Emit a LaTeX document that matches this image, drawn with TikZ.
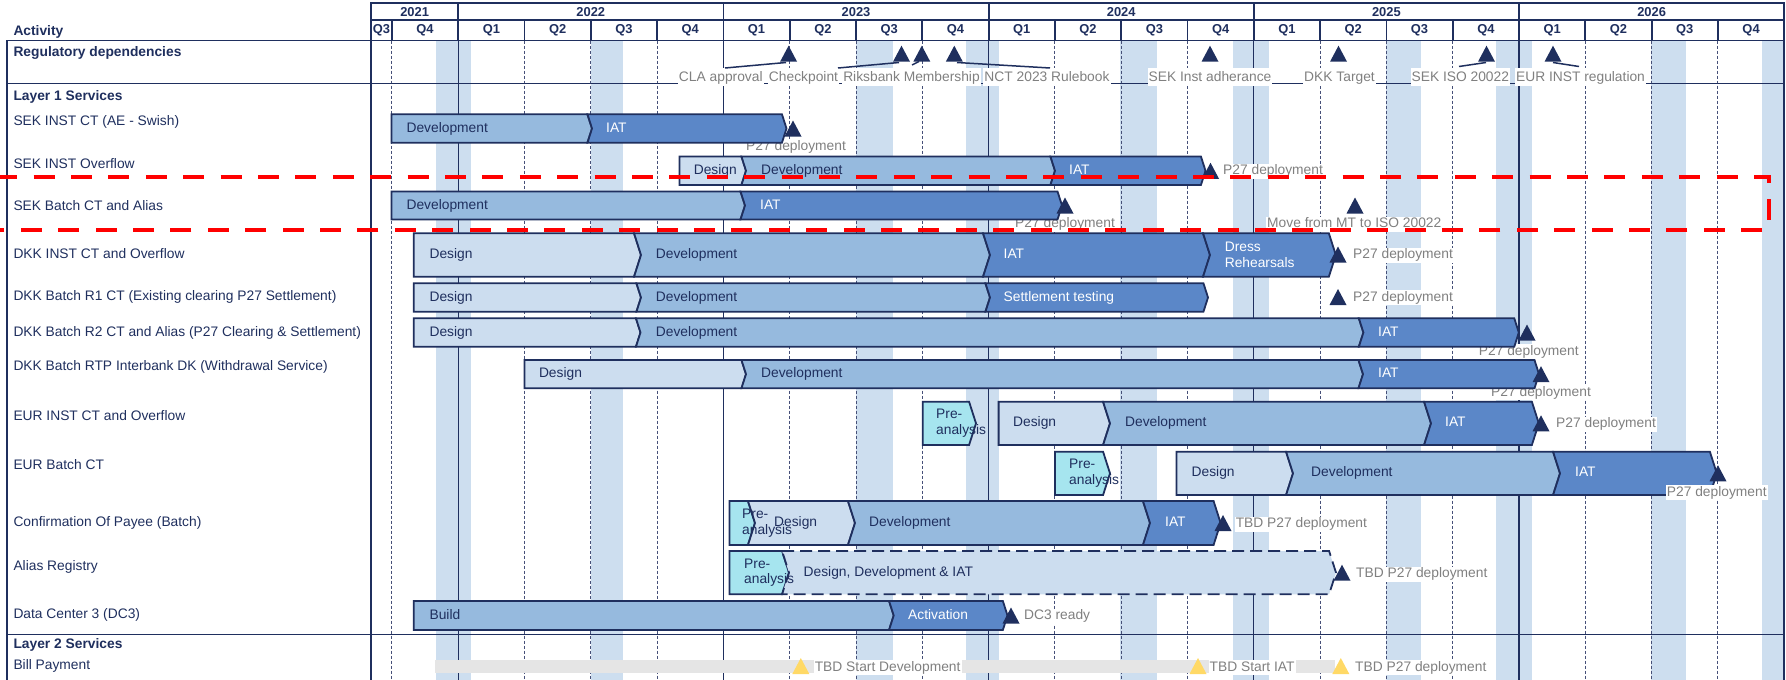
\documentclass[tikz,border=0pt]{standalone}
\usepackage{fontspec}
\setmainfont{Liberation Sans}
\definecolor{navy}{RGB}{31,47,94}
\definecolor{designc}{RGB}{204,221,239}
\definecolor{devc}{RGB}{150,186,222}
\definecolor{iatc}{RGB}{91,135,200}
\definecolor{prec}{RGB}{166,229,239}
\definecolor{bandc}{RGB}{205,222,239}
\definecolor{grayt}{RGB}{128,128,128}
\definecolor{grayb}{RGB}{229,229,229}
\definecolor{yell}{RGB}{255,217,102}
\definecolor{gridc}{RGB}{70,80,120}
\newcommand\fs{\fontsize{13.8}{15.6}\selectfont}
\newcommand\hfs{\fontsize{12.9}{14}\selectfont\bfseries}
\newcommand\segF[5]{\pgfmathsetmacro\chd{0.16*(#5-#4)}\pgfmathsetmacro\chm{(#4+#5)/2}\path[#1] (#2,#4) -- ({#3-\chd},#4) -- (#3,\chm) -- ({#3-\chd},#5) -- (#2,#5) -- cycle;}
\newcommand\segN[5]{\pgfmathsetmacro\chd{0.16*(#5-#4)}\pgfmathsetmacro\chm{(#4+#5)/2}\path[#1] ({#2-\chd},#4) -- ({#3-\chd},#4) -- (#3,\chm) -- ({#3-\chd},#5) -- ({#2-\chd},#5) -- (#2,\chm) -- cycle;}
\newcommand\mstone[3][navy]{\path[fill=#1] ({#2-8.5},{#3+8}) -- (#2,{#3-8}) -- ({#2+8.5},{#3+8}) -- cycle;}
\tikzset{
 hdr/.style={draw=navy, line width=1.8},
 hdrtxt/.style={font=\hfs, text=navy, inner sep=0},
 rowlbl/.style={font=\fs, text=navy, anchor=west, inner sep=0},
 rowhd/.style={font=\fs\bfseries, text=navy, anchor=west, inner sep=0},
 lbl/.style={font=\fs, text=grayt, fill=white, anchor=west, inner xsep=1, inner ysep=1, text height=10, text depth=3},
 regl/.style={lbl, anchor=base, text height=13, text depth=3},
 seg/.style={draw=navy, line width=1.8, line join=miter},
 sdesign/.style={seg, fill=designc},
 sdev/.style={seg, fill=devc},
 siat/.style={seg, fill=iatc},
 spre/.style={seg, fill=prec},
 sdashed/.style={seg, fill=designc, dash pattern=on 12 off 6},
 btxt/.style={font=\fs, text=navy, anchor=west, inner sep=0, text height=10, text depth=3},
 btxtw/.style={btxt, text=white},
 btxtm/.style={font=\fs, text=navy, anchor=west, inner sep=0, align=left},
 qline/.style={draw=gridc, line width=0.9, dash pattern=on 3 off 2},
 yline/.style={draw=navy, line width=1.2},
 leader/.style={draw=navy, line width=1.5},
 reddash/.style={draw=red, line width=4.5, dash pattern=on 21 off 16.4},
}
\begin{document}
\begin{tikzpicture}[x=1pt,y=-1pt]
\useasboundingbox (0,0) rectangle (1786,680);
% holiday bands
\foreach \a/\b in {436/471,591/623,856/893,966/999,1120/1157,1233/1269,1386/1421,1496/1532,1651/1686,1762/1784.2}
  \fill[bandc] (\a,40.5) rectangle (\b,680);
% quarter lines
\draw[qline] (391.9,40.5) -- (391.9,680);
\foreach \k in {1,2,3,5,6,7,9,10,11,13,14,15,17,18,19} {\pgfmathsetmacro\xq{458.2+66.3*\k}\draw[qline] (\xq,40.5) -- (\xq,680);}
% year lines
\foreach \xq in {458.2,723.4,988.6,1253.8,1519} \draw[yline] (\xq,40.5) -- (\xq,680);
% frame
\draw[navy, line width=1.8] (6.7,680) -- (6.7,40.5) -- (1784.2,40.5) -- (1784.2,680);
\draw[navy, line width=1.8] (371,40.5) -- (371,680);
\draw[navy, line width=1.3] (6.7,83.5) -- (1784.2,83.5);
\draw[navy, line width=1.3] (6.7,634.4) -- (1784.2,634.4);
% header
\foreach \a/\b/\t in {371/458.2/2021,458.2/723.4/2022,723.4/988.6/2023,988.6/1253.8/2024,1253.8/1519/2025,1519/1784.2/2026}
  {\draw[hdr] (\a,3.3) rectangle (\b,20); \node[hdrtxt] (y\t) at ({(\a+\b)/2},11.9) {\t};}
\draw[hdr] (371,20) rectangle (391.9,40.5); \node[hdrtxt] (qa) at (381.45,30.5) {Q3};
\draw[hdr] (391.9,20) rectangle (458.2,40.5); \node[hdrtxt] (qb) at (425.05,30.5) {Q4};
\foreach \k in {0,...,19} {\pgfmathsetmacro\xa{458.2+66.3*\k}\pgfmathtruncatemacro\qq{mod(\k,4)+1}
  \draw[hdr] (\xa,20) rectangle ({\xa+66.3},40.5); \node[hdrtxt] (q\k) at ({\xa+33.15},30.5) {Q\qq};}
% left labels
\node[rowhd] (act) at (13.3,31.7) {Activity};
\node[rowhd] (reg) at (13.3,53.3) {Regulatory dependencies};
\node[rowhd] (l1) at (13.3,97.3) {Layer 1 Services};
\node[rowlbl] (r1) at (13.3,121.7) {SEK INST CT (AE - Swish)};
\node[rowlbl] (r2) at (13.3,163.3) {SEK INST Overflow};
\node[rowlbl] (r3) at (13.3,205.7) {SEK Batch CT and Alias};
\node[rowlbl] (r4) at (13.3,254) {DKK INST CT and Overflow};
\node[rowlbl] (r5) at (13.3,297.3) {DKK Batch R1 CT (Existing clearing P27 Settlement)};
\node[rowlbl] (r6) at (13.3,332.5) {DKK Batch R2 CT and Alias (P27 Clearing \& Settlement)};
\node[rowlbl] (r7) at (13.3,367.3) {DKK Batch RTP Interbank DK (Withdrawal Service)};
\node[rowlbl] (r8) at (13.3,415.7) {EUR INST CT and Overflow};
\node[rowlbl] (r9) at (13.3,465) {EUR Batch CT};
\node[rowlbl] (r10) at (13.3,523.3) {Confirmation Of Payee (Batch)};
\node[rowlbl] (r11) at (13.3,566.5) {Alias Registry};
\node[rowlbl] (r12) at (13.3,615) {Data Center 3 (DC3)};
\node[rowhd] (l2) at (13.3,644.7) {Layer 2 Services};
\node[rowlbl] (r13) at (13.3,666.3) {Bill Payment};
% regulatory labels
\node[regl] (g1) at (720.8,81.5) {CLA approval};
\node[regl] (g2) at (803.5,81.5) {Checkpoint};
\node[regl] (g3) at (911.5,81.5) {Riksbank Membership};
\node[regl] (g4) at (1047,81.5) {NCT 2023 Rulebook};
\node[regl] (g5) at (1210,81.5) {SEK Inst adherance};
\node[regl] (g6) at (1339.5,81.5) {DKK Target};
\node[regl] (g7) at (1460.3,81.5) {SEK ISO 20022};
\node[regl] (g8) at (1580.5,81.5) {EUR INST regulation};
% bill payment gray bar
\fill[grayb] (435,659.5) rectangle (1335,673);
% milestone labels
\node[lbl] (m1) at (745,147) {P27 deployment};
\node[lbl] (m2) at (1222,171) {P27 deployment};
\node[lbl] (m3) at (1014,224.3) {P27 deployment};
\node[lbl] (m3b) at (1266,224.3) {Move from MT to ISO 20022};
\node[lbl] (m4) at (1352,255.3) {P27 deployment};
\node[lbl] (m5) at (1352,297.7) {P27 deployment};
\node[lbl] (m6) at (1477.7,351.7) {P27 deployment};
\node[lbl] (m7) at (1490,392.7) {P27 deployment};
\node[lbl] (m8) at (1555,424.3) {P27 deployment};
\node[lbl] (m10) at (1234.6,524) {TBD P27 deployment};
\node[lbl] (m11) at (1355,574.3) {TBD P27 deployment};
\node[lbl] (m12) at (1023,616) {DC3 ready};
\node[lbl] (b1) at (813.6,667.5) {TBD Start Development};
\node[lbl] (b2) at (1208.5,667.5) {TBD Start IAT};
\node[lbl] (b3) at (1354,667.5) {TBD P27 deployment};
% row 1 SEK INST CT
\segF{sdev}{391.4}{592}{114.3}{142.7}
\segN{siat}{592}{786.5}{114.3}{142.7}
\node[btxt] (a1) at (406.4,128.5) {Development};
\node[btxtw] (a2) at (606,128.5) {IAT};
% row 2 SEK INST Overflow
\segF{sdesign}{679.4}{746}{156.5}{185}
\segN{sdev}{746}{1055}{156.5}{185}
\segN{siat}{1055}{1205.5}{156.5}{185}
\node[btxt] (b21) at (693.6,170.75) {Design};
\node[btxt] (b22) at (761,170.75) {Development};
\node[btxtw] (b23) at (1069,170.75) {IAT};
% row 3 SEK Batch
\segF{sdev}{391.4}{745}{191.5}{219.5}
\segN{siat}{745}{1062}{191.5}{219.5}
\node[btxt] (b31) at (406.4,205.5) {Development};
\node[btxtw] (b32) at (760,205.5) {IAT};
% row 4 DKK INST
\segF{sdesign}{413.75}{641}{233.3}{276.7}
\segN{sdev}{641}{990}{233.3}{276.7}
\segN{siat}{990}{1210}{233.3}{276.7}
\segN{siat}{1210}{1335.8}{233.3}{276.7}
\node[btxt] (b41) at (429.4,255) {Design};
\node[btxt] (b42) at (655.7,255) {Development};
\node[btxtw] (b43) at (1003.5,255) {IAT};
\node[btxtm, text=white] (b44) at (1224.6,255) {Dress\\Rehearsals};
% row 5 DKK R1
\segF{sdesign}{413.75}{641}{283.3}{311.7}
\segN{sdev}{641}{990}{283.3}{311.7}
\segN{siat}{990}{1208}{283.3}{311.7}
\node[btxt] (b51) at (429.4,297.5) {Design};
\node[btxt] (b52) at (655.7,297.5) {Development};
\node[btxtw] (b53) at (1003.5,297.5) {Settlement testing};
% row 6 DKK R2
\segF{sdesign}{413.75}{640.5}{318.3}{346.7}
\segN{sdev}{640.5}{1363.4}{318.3}{346.7}
\segN{siat}{1363.4}{1518.8}{318.3}{346.7}
\node[btxt] (b61) at (429.4,332.5) {Design};
\node[btxt] (b62) at (655.7,332.5) {Development};
\node[btxtw] (b63) at (1378,332.5) {IAT};
% row 7 RTP
\segF{sdesign}{524.5}{746}{360}{388.3}
\segN{sdev}{746}{1363}{360}{388.3}
\segN{siat}{1363}{1539}{360}{388.3}
\node[btxt] (b71) at (538.8,374.2) {Design};
\node[btxt] (b72) at (761,374.2) {Development};
\node[btxtw] (b73) at (1378,374.2) {IAT};
% row 8 EUR INST
\segF{spre}{922.7}{976}{401.7}{445}
\segF{sdesign}{998.6}{1110}{401.7}{445}
\segN{sdev}{1110}{1431}{401.7}{445}
\segN{siat}{1431}{1538.8}{401.7}{445}
\node[btxtm] (b80) at (936,423.3) {Pre-\\analysis};
\node[btxt] (b81) at (1013,423.3) {Design};
\node[btxt] (b82) at (1125,423.3) {Development};
\node[btxtw] (b83) at (1445,423.3) {IAT};
% row 9 EUR Batch
\segF{spre}{1055}{1110}{451.7}{495}
\segF{sdesign}{1176.4}{1293}{451.7}{495}
\segN{sdev}{1293}{1560}{451.7}{495}
\segN{siat}{1560}{1716.8}{451.7}{495}
\node[btxtm] (b90) at (1069,473.3) {Pre-\\analysis};
\node[btxt] (b91) at (1191.5,473.3) {Design};
\node[btxt] (b92) at (1311,473.3) {Development};
\node[btxtw] (b93) at (1575,473.3) {IAT};
\node[lbl] (m9) at (1665.7,492.7) {P27 deployment};
% row 10 Confirmation of payee
\segF{spre}{729.4}{755}{501}{545}
\segN{sdesign}{755}{855}{501}{545}
\segN{sdev}{855}{1150}{501}{545}
\segN{siat}{1150}{1220.6}{501}{545}
\node[btxtm] (c0) at (742,523) {Pre-\\analysis};
\node[btxt] (c1) at (774,523) {Design};
\node[btxt] (c2) at (869,523) {Development};
\node[btxtw] (c3) at (1165,523) {IAT};
% row 11 Alias registry
\segF{spre}{729.4}{789}{551}{594.3}
\segN{sdashed}{789}{1336}{551}{594.3}
\node[btxtm] (d0) at (744,572.7) {Pre-\\analysis};
\node[btxt] (d1) at (803.5,572.7) {Design, Development \& IAT};
% row 12 DC3
\segF{sdev}{413.75}{893.7}{601}{630}
\segN{siat}{893.7}{1007.5}{601}{630}
\node[btxt] (e1) at (429.4,615.5) {Build};
\node[btxtw] (e2) at (908,615.5) {Activation};
% milestones
\mstone{793}{128.5}
\mstone{1210.5}{170.75}
\mstone{1065}{205.5}
\mstone{1355}{205.5}
\mstone{1338}{254.5}
\mstone{1338}{297}
\mstone{1527}{332.5}
\mstone{1541}{374.2}
\mstone{1541}{423.3}
\mstone{1718}{473.3}
\mstone{1223}{523}
\mstone{1342}{572.7}
\mstone{1011}{615.5}
\mstone[yell]{800.8}{666}
\mstone[yell]{1198}{666}
\mstone[yell]{1340.8}{666}
% regulatory milestones
\foreach \xm in {788.6,901.5,921.8,954.3,1210,1338.5,1486.5,1553} \mstone{\xm}{53.7}
\coordinate (k1a) at (786,62.5); \coordinate (k1b) at (725,68);
\coordinate (k2a) at (899,62.5); \coordinate (k2b) at (838,68);
\coordinate (k3a) at (919,61.5); \coordinate (k3b) at (912,65);
\coordinate (k4a) at (957,62.5); \coordinate (k4b) at (1050,68);
\coordinate (k7a) at (1486,62.5); \coordinate (k7b) at (1459,66.5);
\coordinate (k8a) at (1553,62.5); \coordinate (k8b) at (1579,66.5);
\draw[leader] (k1a) -- (k1b);
\draw[leader] (k2a) -- (k2b);
\draw[leader] (k3a) -- (k3b);
\draw[leader] (k4a) -- (k4b);
\draw[leader] (k7a) -- (k7b);
\draw[leader] (k8a) -- (k8b);
% red dashed highlight
\draw[reddash] (-3.8,177) -- (1769,177) -- (1769,230) -- (-20,230);
\end{tikzpicture}
\end{document}
